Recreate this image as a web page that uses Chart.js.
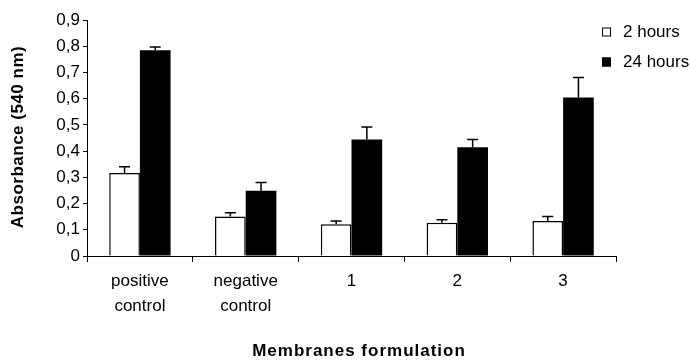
<!DOCTYPE html>
<html>
<head>
<meta charset="utf-8">
<script src="https://cdn.jsdelivr.net/npm/chart.js@4.4.0/dist/chart.umd.min.js"></script>
<style>
  html, body { margin: 0; padding: 0; background: #fff; }
  #wrap { width: 691px; height: 360px; }
</style>
</head>
<body>
<div id="wrap"><canvas id="chart" width="691" height="360"></canvas></div>
<script>
// data
const categories = [["positive", "control"], ["negative", "control"], "1", "2", "3"];
const seriesNames = ["2 hours", "24 hours"];
const values2h = [0.317, 0.151, 0.121, 0.127, 0.133];
const values24h = [0.785, 0.249, 0.444, 0.415, 0.604];
const errors2h = [0.023, 0.014, 0.012, 0.011, 0.018];
const errors24h = [0.012, 0.031, 0.048, 0.029, 0.077];
const yTickLabels = ["0", "0,1", "0,2", "0,3", "0,4", "0,5", "0,6", "0,7", "0,8", "0,9"];
const xTitle = "Membranes formulation";
const yTitle = "Absorbance (540 nm)";

const FONT = "'Liberation Sans', Arial, sans-serif";

// error bars: only the upper half, with a cap
const errorBars = {
  id: "errorBars",
  afterDatasetsDraw(chart) {
    const ctx = chart.ctx;
    const yScale = chart.scales.y;
    ctx.save();
    ctx.strokeStyle = "#000";
    ctx.lineWidth = 1.5;
    chart.data.datasets.forEach((ds, di) => {
      const meta = chart.getDatasetMeta(di);
      meta.data.forEach((bar, i) => {
        const yBar = yScale.getPixelForValue(ds.data[i]);
        const yTop = yScale.getPixelForValue(ds.data[i] + ds.errors[i]);
        ctx.beginPath();
        ctx.moveTo(bar.x, yBar);
        ctx.lineTo(bar.x, yTop);
        ctx.moveTo(bar.x - 5.5, yTop);
        ctx.lineTo(bar.x + 5.5, yTop);
        ctx.stroke();
      });
    });
    ctx.restore();
  }
};

// legend at the top right and the two axis titles
const extras = {
  id: "extras",
  afterDraw(chart) {
    const ctx = chart.ctx;
    ctx.save();
    chart.data.datasets.forEach((ds, i) => {
      const cy = 32 + i * 30;
      ctx.fillStyle = ds.backgroundColor;
      ctx.fillRect(602, cy - 4.5, 9, 9);
      ctx.strokeStyle = "#000";
      ctx.lineWidth = 1;
      ctx.strokeRect(602.5, cy - 4, 8, 8);
      ctx.fillStyle = "#000";
      ctx.font = "17px " + FONT;
      ctx.textAlign = "left";
      ctx.textBaseline = "middle";
      ctx.fillText(ds.label, 623, cy);
    });

    ctx.font = "bold 17px " + FONT;
    ctx.fillStyle = "#000";
    ctx.textAlign = "center";
    ctx.textBaseline = "middle";
    ctx.letterSpacing = "1px";
    ctx.fillText(xTitle, 359, 351);

    ctx.letterSpacing = "0.5px";
    ctx.translate(18, 137);
    ctx.rotate(-Math.PI / 2);
    ctx.fillText(yTitle, 0, 0);
    ctx.restore();
  }
};

new Chart(document.getElementById("chart"), {
  type: "bar",
  data: {
    labels: categories,
    datasets: [
      {
        label: seriesNames[0],
        data: values2h,
        errors: errors2h,
        backgroundColor: "#fff",
        borderColor: "#000",
        borderWidth: 1.5
      },
      {
        label: seriesNames[1],
        data: values24h,
        errors: errors24h,
        backgroundColor: "#000",
        borderColor: "#000",
        borderWidth: 0
      }
    ]
  },
  options: {
    responsive: false,
    animation: false,
    layout: { padding: { left: 0, right: 75, top: 20, bottom: 0 } },
    datasets: { bar: { categoryPercentage: 0.58, barPercentage: 1.0 } },
    plugins: {
      legend: { display: false },
      tooltip: { enabled: false }
    },
    scales: {
      x: {
        grid: { drawOnChartArea: false, drawTicks: true, tickLength: 6, color: "#000", offset: true },
        border: { color: "#000", width: 1 },
        ticks: {
          color: "#000",
          padding: 7,
          maxRotation: 0,
          autoSkip: false,
          font: { family: FONT, size: 17, lineHeight: 25 / 17 }
        },
        afterFit: (s) => { s.height = 104; }
      },
      y: {
        min: 0,
        max: 0.9,
        grid: { drawOnChartArea: false, drawTicks: true, tickLength: 4, color: "#000" },
        border: { color: "#000", width: 1 },
        ticks: {
          stepSize: 0.1,
          color: "#000",
          padding: 3,
          font: { family: FONT, size: 17 },
          callback: (v, i) => yTickLabels[i]
        },
        afterFit: (s) => { s.width = 87; }
      }
    }
  },
  plugins: [errorBars, extras]
});
</script>
</body>
</html>
